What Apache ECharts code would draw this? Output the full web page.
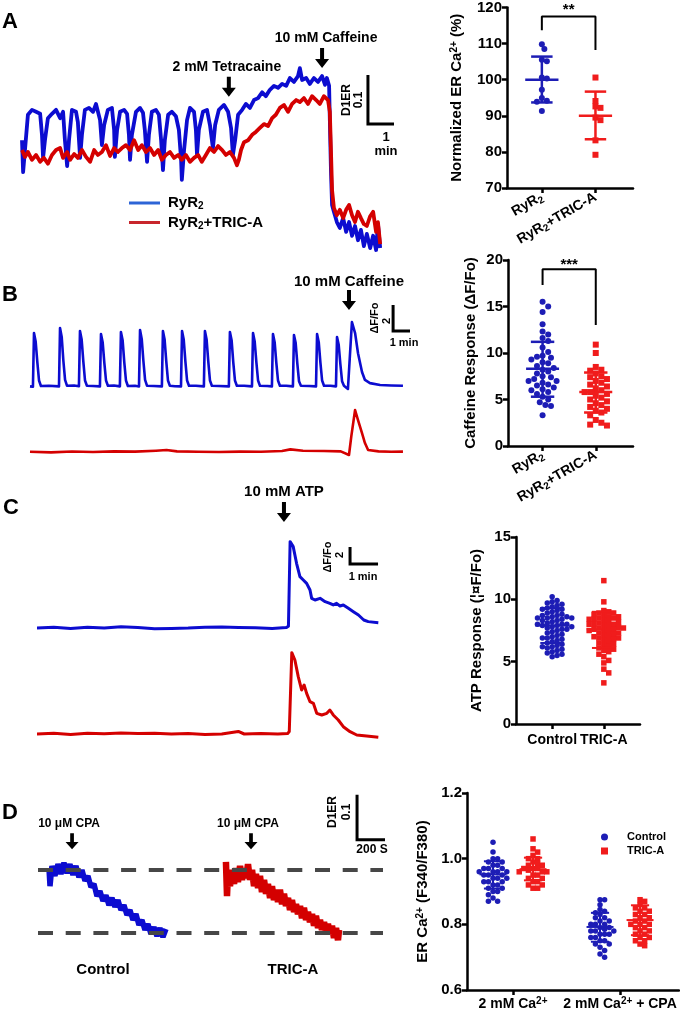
<!DOCTYPE html>
<html>
<head>
<meta charset="utf-8">
<script src="https://cdn.jsdelivr.net/npm/echarts@6/dist/echarts.min.js"></script>
<style>
  html, body { margin: 0; padding: 0; background: #fff; }
  #chart { width: 680px; height: 1012px; }
</style>
</head>
<body>
<div id="chart"></div>
<script>
// ---------- data ----------
// A: D1ER ratio vs time (min)
const traceA_RyR2 = [[0.00,0.824],[0.03,0.759],[0.08,0.804],[0.16,0.876],[0.27,0.886],[0.38,0.882],[0.49,0.878],[0.54,0.835],[0.57,0.788],[0.62,0.824],[0.70,0.869],[0.81,0.878],[0.92,0.886],[1.03,0.869],[1.11,0.882],[1.16,0.824],[1.22,0.771],[1.27,0.824],[1.35,0.886],[1.46,0.882],[1.51,0.861],[1.57,0.788],[1.62,0.835],[1.70,0.886],[1.81,0.890],[1.92,0.882],[2.00,0.898],[2.11,0.865],[2.16,0.814],[2.22,0.855],[2.32,0.886],[2.43,0.890],[2.49,0.845],[2.51,0.790],[2.57,0.845],[2.65,0.882],[2.76,0.886],[2.84,0.878],[2.89,0.835],[2.92,0.784],[2.97,0.835],[3.08,0.882],[3.19,0.890],[3.27,0.880],[3.32,0.845],[3.38,0.780],[3.43,0.835],[3.51,0.882],[3.62,0.886],[3.70,0.876],[3.76,0.824],[3.81,0.763],[3.86,0.824],[3.95,0.876],[4.05,0.882],[4.16,0.873],[4.24,0.845],[4.30,0.784],[4.32,0.743],[4.38,0.804],[4.46,0.865],[4.54,0.890],[4.65,0.882],[4.70,0.845],[4.73,0.794],[4.78,0.845],[4.89,0.882],[5.00,0.886],[5.08,0.855],[5.16,0.808],[5.22,0.855],[5.32,0.886],[5.46,0.896],[5.57,0.882],[5.65,0.849],[5.70,0.794],[5.76,0.824],[5.84,0.876],[5.95,0.886],[6.05,0.898],[6.16,0.890],[6.27,0.906],[6.38,0.910],[6.49,0.922],[6.59,0.914],[6.70,0.927],[6.81,0.935],[6.92,0.931],[7.03,0.939],[7.14,0.935],[7.24,0.951],[7.35,0.943],[7.46,0.955],[7.51,0.971],[7.57,0.947],[7.68,0.951],[7.78,0.939],[7.89,0.951],[8.00,0.943],[8.11,0.955],[8.19,0.937],[8.24,0.951],[8.30,0.935],[8.32,0.865],[8.35,0.763],[8.38,0.692],[8.43,0.678],[8.51,0.657],[8.59,0.645],[8.68,0.665],[8.76,0.637],[8.84,0.657],[8.92,0.629],[9.00,0.649],[9.08,0.620],[9.16,0.641],[9.24,0.608],[9.32,0.633],[9.41,0.604],[9.49,0.629],[9.57,0.600],[9.62,0.653],[9.68,0.604]];
const traceA_TRIC = [[0.00,0.804],[0.08,0.790],[0.16,0.800],[0.27,0.784],[0.38,0.794],[0.49,0.780],[0.59,0.788],[0.70,0.776],[0.81,0.794],[0.92,0.804],[1.03,0.808],[1.11,0.788],[1.22,0.800],[1.30,0.784],[1.41,0.796],[1.51,0.788],[1.62,0.804],[1.73,0.790],[1.84,0.780],[1.95,0.804],[2.05,0.794],[2.16,0.800],[2.27,0.814],[2.38,0.792],[2.49,0.808],[2.59,0.800],[2.70,0.808],[2.81,0.814],[2.92,0.804],[3.03,0.824],[3.14,0.804],[3.24,0.814],[3.35,0.800],[3.46,0.808],[3.57,0.794],[3.68,0.804],[3.78,0.784],[3.89,0.794],[4.00,0.800],[4.11,0.788],[4.22,0.794],[4.32,0.784],[4.43,0.794],[4.54,0.780],[4.65,0.788],[4.76,0.794],[4.86,0.780],[4.97,0.794],[5.08,0.808],[5.19,0.800],[5.30,0.812],[5.41,0.804],[5.51,0.794],[5.62,0.800],[5.73,0.788],[5.81,0.773],[5.86,0.784],[5.92,0.804],[6.00,0.820],[6.11,0.824],[6.22,0.835],[6.32,0.841],[6.43,0.849],[6.54,0.857],[6.65,0.853],[6.76,0.869],[6.86,0.876],[6.97,0.890],[7.08,0.896],[7.19,0.882],[7.30,0.898],[7.41,0.906],[7.51,0.902],[7.62,0.910],[7.73,0.898],[7.84,0.914],[7.95,0.906],[8.05,0.898],[8.16,0.914],[8.27,0.906],[8.32,0.882],[8.35,0.804],[8.38,0.722],[8.43,0.686],[8.51,0.671],[8.59,0.682],[8.68,0.665],[8.76,0.682],[8.84,0.692],[8.92,0.671],[9.00,0.657],[9.08,0.678],[9.16,0.665],[9.24,0.653],[9.32,0.649],[9.41,0.669],[9.49,0.678],[9.57,0.637],[9.62,0.657],[9.68,0.612]];
const drugsA = [{ text: '2 mM Tetracaine', t: 5.59 }, { text: '10 mM Caffeine', t: 8.11 }];

// A right: normalized ER Ca2+ (%)
const catsRyR = ['RyR{s|2}', 'RyR{s|2}+TRIC-A'];
const erA_RyR2 = [109.8, 108.5, 105.5, 105.1, 100.6, 100.3, 97.2, 94.9, 94.2, 93.9, 91.3];
const erA_TRIC = [100.6, 94.1, 92.6, 92.2, 89.5, 88.8, 83.2, 79.2];
const summaryA = [[0, 100.0, 93.7, 106.4], [1, 90.0, 83.5, 96.7]]; // [group, mean, -SD, +SD]
const sigA = { top: 117.5, left: 113.7, right: 108.2, stars: '**', starsY: 119.4 };

// B: caffeine response traces (dF/Fo vs min)
const traceB_RyR2 = [[0.00,0.05],[0.14,0.02],[0.19,4.15],[0.27,3.5],[0.35,1.9],[0.43,0.5],[0.52,0.08],[0.9,0.1],[1.38,0.05],[1.43,4.54],[1.51,3.85],[1.59,2.0],[1.67,0.55],[1.76,0.1],[2.1,0.12],[2.33,0.06],[2.38,4.31],[2.46,3.65],[2.54,1.95],[2.62,0.5],[2.71,0.1],[3.0,0.08],[3.33,0.05],[3.38,4.08],[3.46,3.45],[3.54,1.85],[3.62,0.5],[3.71,0.1],[4.0,0.12],[4.28,0.05],[4.33,4.23],[4.41,3.6],[4.49,1.9],[4.57,0.5],[4.66,0.08],[5.0,0.1],[5.19,0.04],[5.24,4.38],[5.32,3.7],[5.40,2.0],[5.48,0.55],[5.57,0.1],[5.9,0.08],[6.28,0.05],[6.33,4.31],[6.41,3.65],[6.49,1.95],[6.57,0.5],[6.66,0.1],[6.9,0.06],[7.19,0.05],[7.24,4.31],[7.32,3.65],[7.40,1.95],[7.48,0.5],[7.57,0.1],[7.9,0.1],[8.28,0.05],[8.33,4.31],[8.41,3.65],[8.49,1.95],[8.57,0.5],[8.66,0.1],[9.0,0.08],[9.47,0.05],[9.52,4.23],[9.60,3.6],[9.68,1.9],[9.76,0.5],[9.85,0.1],[10.2,0.1],[10.57,0.05],[10.62,4.15],[10.70,3.5],[10.78,1.9],[10.86,0.5],[10.95,0.1],[11.3,0.08],[11.52,0.05],[11.57,4.08],[11.65,3.45],[11.73,1.85],[11.81,0.5],[11.90,0.1],[12.2,0.1],[12.52,0.05],[12.57,4.0],[12.65,3.4],[12.73,1.8],[12.81,0.45],[12.90,0.1],[13.3,0.08],[13.62,0.05],[13.67,4.08],[13.75,3.45],[13.83,1.85],[13.91,0.5],[14.0,0.1],[14.3,0.1],[14.57,0.05],[14.62,3.85],[14.70,3.25],[14.78,1.75],[14.86,0.45],[14.95,0.1],[15.14,-0.15],[15.2,1.5],[15.33,5.0],[15.48,4.15],[15.62,2.6],[15.81,1.15],[15.95,0.54],[16.19,0.3],[16.67,0.15],[17.2,0.12],[17.76,0.1]];
const traceB_TRIC = [[0,0.02],[1,-0.03],[2,0.04],[3,0.0],[4,0.05],[5,0.03],[6,0.1],[6.5,0.15],[7,0.05],[8,0.02],[9,0.0],[10,0.03],[11,0.02],[12,0.08],[12.4,0.2],[13,0.1],[14,0.08],[14.8,0.05],[15.19,-0.23],[15.3,1.2],[15.48,3.23],[15.62,2.46],[15.81,1.46],[15.95,0.69],[16.1,0.15],[16.6,0.05],[17.2,0.02],[17.76,0.03]];
const drugB = { text: '10 mM Caffeine', t: 15.19 };

// B right: caffeine response (dF/Fo)
const cafB_RyR2 = [15.5, 15.0, 14.4, 13.1, 12.3, 12.0, 11.6, 11.3, 10.6, 10.1, 9.7, 9.6, 9.5, 9.3, 9.0, 8.9, 8.6, 8.4, 8.2, 8.0, 7.8, 7.5, 7.4, 7.2, 7.0, 7.0, 6.8, 6.6, 6.5, 6.3, 6.1, 6.0, 5.8, 5.6, 5.3, 5.0, 4.7, 4.4, 4.3, 3.3];
const cafB_TRIC = [10.9, 10.0, 8.5, 8.2, 8.1, 7.8, 7.5, 7.4, 7.2, 7.0, 6.8, 6.6, 6.4, 6.2, 6.0, 5.8, 5.8, 5.6, 5.4, 5.2, 5.0, 4.8, 4.6, 4.4, 4.2, 4.0, 3.8, 3.6, 3.3, 2.8, 2.5, 2.3, 2.2];
const summaryB = [[0, 8.3, 5.3, 11.2], [1, 5.8, 3.6, 7.9]];
const sigB = { top: 19.0, left: 17.3, right: 13.0, stars: '***', starsY: 19.5 };

// C: ATP response traces
const traceC_Control = [[0,0.0],[0.6,0.1],[1.2,-0.05],[1.8,0.08],[2.4,0.0],[3.0,0.15],[3.6,0.05],[4.2,-0.1],[4.8,-0.05],[5.4,0.0],[6.0,0.1],[6.6,0.12],[7.2,0.05],[7.8,0.02],[8.4,-0.05],[8.9,0.05],[8.98,0.2],[9.04,10.16],[9.15,9.57],[9.27,7.61],[9.39,6.04],[9.51,5.65],[9.63,5.25],[9.69,5.45],[9.75,4.47],[9.81,3.49],[9.93,3.29],[10.11,3.49],[10.29,3.10],[10.46,2.90],[10.58,2.71],[10.70,2.90],[10.82,2.59],[10.94,2.71],[11.12,2.31],[11.30,1.92],[11.48,1.53],[11.67,0.94],[11.83,0.75],[12.19,0.63]];
const traceC_TRIC = [[0,0.0],[0.6,0.1],[1.2,-0.05],[1.8,0.1],[2.4,0.02],[3.0,0.12],[3.6,0.05],[4.2,0.1],[4.8,0.0],[5.4,0.05],[6.0,-0.05],[6.6,0.0],[7.19,0.3],[7.4,0.0],[8.0,0.05],[8.6,0.0],[8.95,0.05],[9.01,0.3],[9.10,9.57],[9.21,8.71],[9.33,6.75],[9.45,5.18],[9.54,5.76],[9.63,4.78],[9.75,3.80],[9.87,3.61],[9.99,2.43],[10.17,2.24],[10.35,2.43],[10.46,2.82],[10.58,2.24],[10.76,1.65],[10.94,0.86],[11.18,0.27],[11.42,-0.12],[11.77,-0.24],[12.19,-0.39]];
const drugC = { text: '10 mM ATP', t: 8.82 };

// C right: ATP response
const catsC = ['Control', 'TRIC-A'];
const atpC_Control = [10.2, 9.9, 9.8, 9.7, 9.6, 9.5, 9.4, 9.3, 9.2, 9.2, 9.1, 9.0, 8.9, 8.8, 8.7, 8.7, 8.6, 8.6, 8.5, 8.5, 8.5, 8.4, 8.3, 8.3, 8.2, 8.1, 8.0, 8.0, 8.0, 7.9, 7.9, 7.8, 7.8, 7.7, 7.6, 7.6, 7.5, 7.4, 7.3, 7.2, 7.1, 7.0, 6.9, 6.9, 6.8, 6.7, 6.6, 6.5, 6.4, 6.3, 6.2, 6.2, 6.1, 6.0, 5.9, 5.8, 5.7, 5.6, 5.5, 5.4];
const atpC_TRIC = [11.5, 9.8, 9.1, 9.0, 8.9, 8.9, 8.8, 8.7, 8.6, 8.6, 8.5, 8.5, 8.4, 8.4, 8.3, 8.2, 8.2, 8.1, 8.0, 8.0, 8.0, 7.9, 7.8, 7.8, 7.7, 7.7, 7.6, 7.6, 7.5, 7.5, 7.4, 7.3, 7.3, 7.2, 7.1, 7.0, 7.0, 6.9, 6.9, 6.8, 6.7, 6.6, 6.5, 6.4, 6.3, 6.2, 6.1, 6.0, 5.9, 5.8, 5.6, 5.4, 5.1, 4.9, 4.4, 4.1, 3.3];
const summaryC = [[0, 7.9, 6.5, 9.3], [1, 7.6, 6.1, 9.0]];

// D: ER Ca2+ (D1ER) vs time (s)
const traceD_Control = [[73,0.894],[80,0.854],[93,0.899],[113,0.877],[133,0.903],[153,0.881],[173,0.906],[193,0.883],[213,0.903],[233,0.879],[253,0.899],[273,0.874],[293,0.890],[313,0.866],[333,0.877],[353,0.852],[373,0.859],[393,0.832],[413,0.843],[433,0.821],[453,0.834],[473,0.812],[493,0.828],[513,0.808],[533,0.823],[553,0.801],[573,0.812],[593,0.790],[613,0.801],[633,0.779],[653,0.792],[673,0.768],[693,0.779],[713,0.757],[733,0.770],[753,0.748],[773,0.763],[793,0.743],[813,0.761],[833,0.741],[853,0.759]];
const traceD_TRIC = [[1253,0.908],[1260,0.832],[1267,0.886],[1280,0.854],[1293,0.890],[1307,0.859],[1320,0.894],[1333,0.863],[1347,0.899],[1360,0.868],[1373,0.894],[1387,0.872],[1400,0.903],[1413,0.868],[1427,0.890],[1440,0.854],[1453,0.881],[1467,0.850],[1480,0.877],[1493,0.841],[1507,0.868],[1520,0.837],[1533,0.859],[1547,0.828],[1560,0.854],[1573,0.823],[1587,0.846],[1600,0.819],[1613,0.846],[1627,0.814],[1640,0.837],[1653,0.810],[1667,0.828],[1680,0.801],[1693,0.823],[1707,0.797],[1720,0.814],[1733,0.792],[1747,0.810],[1760,0.783],[1773,0.806],[1787,0.779],[1800,0.797],[1813,0.774],[1827,0.792],[1840,0.766],[1853,0.788],[1867,0.761],[1880,0.779],[1893,0.757],[1907,0.774],[1920,0.752],[1933,0.770],[1947,0.748],[1960,0.766],[1973,0.739],[1987,0.761],[2000,0.734],[2007,0.757]];
const dashLevelsD = [0.886, 0.75];
const drugsD = [{ text: '10 μM CPA', t: 227 }, { text: '10 μM CPA', t: 1420 }];

// D right: ER Ca2+ (F340/F380)
const catsD = ['2 mM Ca{sup|2+}', '2 mM Ca{sup|2+} + CPA'];
const erD_Control = [
  [1.05, 1.02, 1.0, 1.0, 0.99, 0.99, 0.98, 0.98, 0.97, 0.97, 0.97, 0.96, 0.96, 0.96, 0.96, 0.95, 0.95, 0.95, 0.94, 0.94, 0.94, 0.93, 0.93, 0.93, 0.92, 0.92, 0.91, 0.91, 0.90, 0.90, 0.89, 0.88, 0.87, 0.87],
  [0.875, 0.875, 0.86, 0.845, 0.84, 0.835, 0.83, 0.82, 0.82, 0.81, 0.81, 0.80, 0.80, 0.80, 0.79, 0.79, 0.785, 0.78, 0.78, 0.78, 0.77, 0.77, 0.77, 0.76, 0.76, 0.75, 0.75, 0.74, 0.74, 0.73, 0.72, 0.71, 0.70]
];
const erD_TRIC = [
  [1.06, 1.03, 1.02, 1.01, 1.0, 1.0, 0.99, 0.985, 0.98, 0.98, 0.97, 0.97, 0.97, 0.965, 0.96, 0.96, 0.96, 0.95, 0.95, 0.94, 0.94, 0.93, 0.93, 0.92, 0.92, 0.91, 0.91],
  [0.875, 0.87, 0.86, 0.85, 0.85, 0.84, 0.84, 0.83, 0.83, 0.82, 0.82, 0.81, 0.81, 0.80, 0.80, 0.80, 0.79, 0.79, 0.78, 0.78, 0.77, 0.77, 0.76, 0.76, 0.75, 0.75, 0.74, 0.735]
];
const summaryD_Control = [[0, 0.952, 0.909, 0.992], [1, 0.792, 0.747, 0.835]];
const summaryD_TRIC = [[0, 0.968, 0.934, 1.003], [1, 0.813, 0.767, 0.858]];

// ---------- styling helpers ----------
const FONT = '"Liberation Sans", Arial, Helvetica, sans-serif';
const INK = '#000';
const BLUE_T = '#0c0cd0', RED_T = '#d40000';
const BLUE_D = '#1d1db5', RED_D = '#f01c1c';
const ARROW = 'path://M5,0 L9,0 L9,11 L14,11 L7,20 L0,11 L5,11 Z';

// beeswarm placement: horizontal offsets so dots of diameter d (px) don't overlap
function swarm(values, center, pxX, pxY, d) {
  const placed = [];
  const out = new Array(values.length);
  const order = values.map((v, i) => i).sort((a, b) => values[b] - values[a]);
  order.forEach(i => {
    const y = values[i] * pxY;
    let off = 0;
    for (let k = 0; k < 60; k++) {
      const cand = k === 0 ? 0 : (k % 2 ? 1 : -1) * Math.ceil(k / 2) * d * 0.5;
      if (placed.every(p => (p[0] - cand) ** 2 + (p[1] - y) ** 2 >= d * d)) { off = cand; break; }
    }
    placed.push([off, y]);
    out[i] = [center + off / pxX, values[i]];
  });
  return out;
}

function hiddenAxes(xmin, xmax, ymin, ymax) {
  const gi = xAxes.length;
  xAxes.push({ gridIndex: gi, type: 'value', min: xmin, max: xmax, show: false });
  yAxes.push({ gridIndex: gi, type: 'value', min: ymin, max: ymax, show: false });
  return gi;
}

const axisLine = { onZero: false, lineStyle: { color: INK, width: 2.5 } };
const axisTick = { length: 5, lineStyle: { color: INK, width: 2.5 } };
const supRich = {
  sup: { fontSize: 10, fontWeight: 'bold', fontFamily: FONT, color: INK, verticalAlign: 'top', padding: [0, 0, 6, 0] },
  s: { fontSize: 10, fontWeight: 'bold', fontFamily: FONT, color: INK, padding: [7, 0, 0, 0] }
};

function statAxes(xmin, xmax, labels, labelExtra, ymin, ymax, interval, yname, nameGap, fmt) {
  const gi = xAxes.length;
  xAxes.push({
    gridIndex: gi, type: 'value', min: xmin, max: xmax,
    axisLine, axisTick: Object.assign({ customValues: [0, 1] }, axisTick),
    axisLabel: Object.assign({
      customValues: [0, 1], formatter: v => labels[Math.round(v)],
      color: INK, fontSize: 14, fontWeight: 'bold', fontFamily: FONT, margin: 8, rich: supRich
    }, labelExtra),
    splitLine: { show: false }
  });
  yAxes.push({
    gridIndex: gi, type: 'value', min: ymin, max: ymax, interval,
    axisLine, axisTick,
    axisLabel: { color: INK, fontSize: 15, fontWeight: 'bold', fontFamily: FONT, margin: 5, formatter: fmt },
    splitLine: { show: false },
    name: yname, nameLocation: 'middle', nameGap,
    nameTextStyle: { color: INK, fontSize: 15, fontWeight: 'bold', fontFamily: FONT, rich: supRich }
  });
  return gi;
}

function trace(name, gi, data, color, width, join) {
  return {
    name, type: 'line', xAxisIndex: gi, yAxisIndex: gi, data, symbol: 'none', showSymbol: false,
    clip: false, silent: true, lineStyle: { color, width, join: join || 'round', cap: 'butt' }, itemStyle: { color }
  };
}

function scaleBar(gi, x0, y0, dx, dy) {
  return {
    type: 'line', xAxisIndex: gi, yAxisIndex: gi, symbol: 'none', clip: false, silent: true,
    data: [[x0, y0 + dy], [x0, y0], [x0 + dx, y0]],
    lineStyle: { color: INK, width: 3, join: 'miter' }
  };
}

function arrow(gi, t, v, text, size, fs, dist, offset) {
  return {
    type: 'scatter', xAxisIndex: gi, yAxisIndex: gi, clip: false, silent: true,
    symbol: ARROW, symbolSize: size, itemStyle: { color: INK, opacity: 1 },
    data: [[t, v]],
    label: { show: true, position: 'top', distance: dist, offset, formatter: text,
      color: INK, opacity: 1, fontSize: fs, fontWeight: 'bold', fontFamily: FONT }
  };
}

function dots(name, gi, data, color, symbol, size) {
  return { name, type: 'scatter', xAxisIndex: gi, yAxisIndex: gi, data, symbol, symbolSize: size,
    itemStyle: { color, opacity: 1 }, silent: true, z: 3 };
}

function errBars(gi, data, color, halfMean, halfCap, width) {
  return {
    type: 'custom', xAxisIndex: gi, yAxisIndex: gi, data, z: 4, silent: true,
    encode: { x: 0, y: [1, 2, 3] },
    renderItem(params, api) {
      const x = api.value(0), m = api.value(1), lo = api.value(2), hi = api.value(3);
      const seg = (a, b) => {
        const p = api.coord(a), q = api.coord(b);
        return { type: 'line', shape: { x1: p[0], y1: p[1], x2: q[0], y2: q[1] },
          style: { stroke: color, lineWidth: width } };
      };
      return { type: 'group', children: [
        seg([x - halfMean, m], [x + halfMean, m]),
        seg([x, lo], [x, hi]),
        seg([x - halfCap, lo], [x + halfCap, lo]),
        seg([x - halfCap, hi], [x + halfCap, hi])
      ] };
    }
  };
}

function sigBracket(gi, s) {
  return [
    { type: 'line', xAxisIndex: gi, yAxisIndex: gi, symbol: 'none', silent: true,
      data: [[0, s.left], [0, s.top], [1, s.top], [1, s.right]],
      lineStyle: { color: INK, width: 2 } },
    { type: 'scatter', xAxisIndex: gi, yAxisIndex: gi, symbolSize: 0, silent: true, clip: false,
      data: [[0.5, s.starsY]], itemStyle: { opacity: 1 },
      label: { show: true, position: 'inside', formatter: s.stars, color: INK, fontSize: 15, fontWeight: 'bold', fontFamily: FONT } }
  ];
}

function txt(text, x, y, size, rot) {
  return { type: 'text', x, y, rotation: rot || 0, silent: true,
    style: { text, font: 'bold ' + size + 'px ' + FONT, fill: INK, textAlign: 'center', textVerticalAlign: 'middle' } };
}

// ---------- layout ----------
const xAxes = [], yAxes = [];
const grids = [];
const series = [];
const R90 = Math.PI / 2;

// A traces
grids.push({ left: 22, top: 54, width: 370, height: 196 });
const gA = hiddenAxes(0, 10, 0.6, 1.0);
series.push(trace('RyR2', gA, traceA_RyR2, BLUE_T, 3.8));
series.push(trace('RyR2+TRIC-A', gA, traceA_TRIC, RED_T, 3.8));
series.push(scaleBar(gA, 9.35, 0.857, 1, 0.1));
series.push(arrow(gA, drugsA[0].t, 0.933, drugsA[0].text, [14, 20], 14, 3, [-2, 0]));
series.push(arrow(gA, drugsA[1].t, 0.992, drugsA[1].text, [14, 20], 14, 3, [4, 0]));

// A stats
grids.push({ left: 507, top: 6, width: 126, height: 182 });
const gAs = statAxes(-0.65, 1.7, catsRyR, { rotate: 30 }, 70, 120, 10,
  'Normalized ER Ca{sup|2+} (%)', 42);
series.push(dots('a1', gAs, swarm(erA_RyR2, 0, 53.6, 3.64, 5), BLUE_D, 'circle', 6));
series.push(dots('a2', gAs, swarm(erA_TRIC, 1, 53.6, 3.64, 5), RED_D, 'rect', 6));
series.push(errBars(gAs, summaryA.slice(0, 1), BLUE_D, 0.31, 0.2, 2.5));
series.push(errBars(gAs, summaryA.slice(1), RED_D, 0.31, 0.2, 2.5));
series.push(...sigBracket(gAs, sigA));

// B traces (two rows, same scale)
grids.push({ left: 30, top: 302.5, width: 378, height: 97.5 });
const gB1 = hiddenAxes(0, 18, -1, 6.5);
grids.push({ left: 30, top: 367.5, width: 378, height: 97.5 });
const gB2 = hiddenAxes(0, 18, -1, 6.5);
series.push(trace('B RyR2', gB1, traceB_RyR2, BLUE_T, 2.6));
series.push(trace('B TRIC-A', gB2, traceB_TRIC, RED_T, 2.6));
series.push(scaleBar(gB1, 17.29, 4.31, 1, 2));
series.push(arrow(gB1, drugB.t, 6.69, drugB.text, [14, 20], 15, 1, [0, 0]));

// B stats
grids.push({ left: 508, top: 260, width: 125, height: 186 });
const gBs = statAxes(-0.65, 1.7, catsRyR, { rotate: 30 }, 0, 20, 5,
  'Caffeine Response (ΔF/Fo)', 30);
series.push(dots('b1', gBs, swarm(cafB_RyR2, 0, 53.2, 9.3, 5.6), BLUE_D, 'circle', 6));
series.push(dots('b2', gBs, swarm(cafB_TRIC, 1, 53.2, 9.3, 5.6), RED_D, 'rect', 6));
series.push(errBars(gBs, summaryB.slice(0, 1), BLUE_D, 0.31, 0.22, 2.5));
series.push(errBars(gBs, summaryB.slice(1), RED_D, 0.31, 0.22, 2.5));
series.push(...sigBracket(gBs, sigB));

// C traces
grids.push({ left: 37, top: 530.25, width: 350, height: 106.25 });
const gC1 = hiddenAxes(0, 12.5, -1, 11.5);
grids.push({ left: 37, top: 636.25, width: 350, height: 106.25 });
const gC2 = hiddenAxes(0, 12.5, -1, 11.5);
series.push(trace('C Control', gC1, traceC_Control, BLUE_T, 3));
series.push(trace('C TRIC-A', gC2, traceC_TRIC, RED_T, 3));
series.push(scaleBar(gC1, 11.18, 7.53, 1, 2));
series.push(arrow(gC1, drugC.t, 13.65, drugC.text, [14, 20], 15, 3, [0, 0]));

// C stats
grids.push({ left: 516, top: 537, width: 124, height: 187 });
const gCs = statAxes(-0.7, 1.7, catsC, { margin: 9 }, 0, 15, 5,
  'ATP Response (¦¤F/Fo)', 32);
series.push(dots('c1', gCs, swarm(atpC_Control, 0, 51.7, 12.47, 4.9), BLUE_D, 'circle', 5.5));
series.push(dots('c2', gCs, swarm(atpC_TRIC, 1, 51.7, 12.47, 4.9), RED_D, 'rect', 5.5));
series.push(errBars(gCs, summaryC.slice(0, 1), BLUE_D, 0.33, 0.23, 2));
series.push(errBars(gCs, summaryC.slice(1), RED_D, 0.33, 0.23, 2));

// D traces
grids.push({ left: 38, top: 798, width: 345, height: 157.5 });
const gD = hiddenAxes(0, 2300, 0.70, 1.05);
series.push(trace('D Control', gD, traceD_Control, BLUE_T, 5.5, 'bevel'));
series.push(trace('D TRIC-A', gD, traceD_TRIC, RED_T, 6.5, 'bevel'));
series.push({
  type: 'line', xAxisIndex: gD, yAxisIndex: gD, data: [], silent: true,
  markLine: { silent: true, symbol: ['none', 'none'], label: { show: false },
    lineStyle: { color: '#474747', width: 4, type: [15, 12.7] },
    data: dashLevelsD.map(v => ({ yAxis: v })) }
});
series.push(scaleBar(gD, 2127, 0.957, 200, 0.1));
series.push(arrow(gD, drugsD[0].t, 0.954, drugsD[0].text, [13, 16], 12, 4, [-3, 0]));
series.push(arrow(gD, drugsD[1].t, 0.954, drugsD[1].text, [13, 16], 12, 4, [-3, 0]));

// D stats
grids.push({ left: 467, top: 793, width: 212, height: 197 });
const gDs = statAxes(-0.43, 1.551, catsD, { margin: 6 }, 0.6, 1.2, 0.2,
  'ER Ca{sup|2+} (F340/F380)', 36, v => v.toFixed(1));
const offD = 0.187;
[0, 1].forEach(g => {
  series.push(dots('Control', gDs, swarm(erD_Control[g], g - offD, 107, 328, 4.6), BLUE_D, 'circle', 5.5));
  series.push(dots('TRIC-A', gDs, swarm(erD_TRIC[g], g + offD, 107, 328, 4.6), RED_D, 'rect', 5.5));
});
series.push(errBars(gDs, summaryD_Control.map(r => [r[0] - offD, r[1], r[2], r[3]]), BLUE_D, 0.126, 0.085, 2));
series.push(errBars(gDs, summaryD_TRIC.map(r => [r[0] + offD, r[1], r[2], r[3]]), RED_D, 0.126, 0.085, 2));

// ---------- annotations ----------
const graphics = [
  txt('A', 10, 22, 22), txt('B', 10, 295, 22), txt('C', 11, 508, 22), txt('D', 10, 813, 22),
  // A scale bar
  txt('D1ER', 347, 100, 12, R90), txt('0.1', 359, 100, 12, R90), txt('1', 386, 137, 13), txt('min', 386, 151, 13),
  // B scale bar
  txt('ΔF/Fo', 375, 318, 11, R90), txt('2', 387, 321, 11, R90), txt('1 min', 404, 343, 11),
  // C scale bar
  txt('ΔF/Fo', 328, 557, 11, R90), txt('2', 340, 555, 11, R90), txt('1 min', 363, 577, 11),
  // D scale bar and labels
  txt('D1ER', 333, 812, 12, R90), txt('0.1', 347, 812, 12, R90), txt('200 S', 372, 850, 12),
  txt('Control', 103, 970, 15), txt('TRIC-A', 293, 970, 15)
];

const option = {
  animation: false,
  backgroundColor: '#fff',
  textStyle: { fontFamily: FONT },
  grid: grids,
  xAxis: xAxes,
  yAxis: yAxes,
  legend: [
    {
      orient: 'vertical', left: 124, top: 190, itemWidth: 31, itemHeight: 3, itemGap: 3, icon: 'rect',
      selectedMode: false,
      data: [{ name: 'RyR2', itemStyle: { color: '#2d64d6' } }, { name: 'RyR2+TRIC-A', itemStyle: { color: '#c8262c' } }],
      formatter: n => n.replace('RyR2', 'RyR{s|2}'),
      textStyle: { fontSize: 15, fontWeight: 'bold', color: INK, fontFamily: FONT, lineHeight: 16, padding: [0, 0, 0, 3], rich: supRich }
    },
    {
      orient: 'vertical', left: 596, top: 826, itemWidth: 7, itemHeight: 7, itemGap: 2,
      selectedMode: false,
      data: [{ name: 'Control', icon: 'circle' }, { name: 'TRIC-A', icon: 'rect' }],
      textStyle: { fontSize: 11, fontWeight: 'bold', color: INK, fontFamily: FONT, lineHeight: 12, padding: [0, 0, 0, 14] }
    }
  ],
  graphic: { elements: graphics },
  series
};

const myChart = echarts.init(document.getElementById('chart'), null, { renderer: 'canvas' });
myChart.setOption(option);
window.addEventListener('resize', () => myChart.resize());
</script>
</body>
</html>
